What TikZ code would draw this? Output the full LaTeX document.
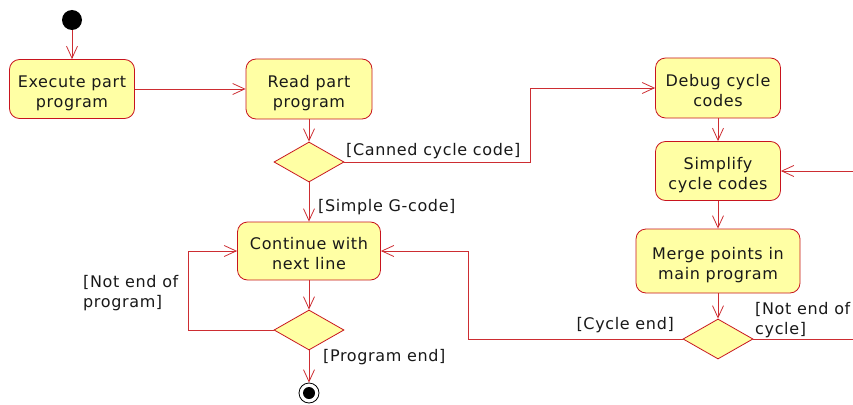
\documentclass[tikz,border=0pt]{standalone}
\usepackage{fontspec}
\setmainfont{DejaVu Sans}[LetterSpace=4]
\usetikzlibrary{shapes.geometric,arrows.meta}
\definecolor{actfill}{RGB}{255,255,164}
\definecolor{actline}{RGB}{200,20,30}
\definecolor{flowline}{RGB}{205,45,50}
\tikzset{
  x=1pt, y=-1pt,
  every node/.style={font=\fontsize{16}{20}\selectfont, text=black!90},
  action/.style={rectangle, rounded corners=10pt, draw=actline, fill=actfill,
    line width=0.8pt, align=center, inner sep=0pt, text height=37pt, text depth=0pt},
  choice/.style={diamond, draw=actline, fill=actfill, line width=0.8pt,
    minimum width=70pt, minimum height=40pt, inner sep=0pt},
  flow/.style={draw=flowline, line width=0.8pt,
    -{Straight Barb[length=12pt,width=11pt,line width=0.8pt]}},
  guard/.style={inner sep=0pt, align=left},
}
\begin{document}
\begin{tikzpicture}
\clip (0,0) rectangle (853,404);
\fill[white] (0,0) rectangle (853,404);

% initial and final states
\node[circle, fill=black, minimum size=20pt, inner sep=0pt] (start) at (72,20) {};
\node[circle, draw=black, line width=0.8pt, minimum size=20pt, inner sep=0pt] (stop) at (309,393) {};
\fill[black] (stop.center) circle (6pt);

% actions
\node[action, minimum width=125pt, minimum height=59pt] (exec) at (72,89) {Execute part\\program};
\node[action, minimum width=126pt, minimum height=60pt] (read) at (309,89) {Read part\\program};
\node[action, minimum width=125pt, minimum height=60pt] (debug) at (718,88) {Debug cycle\\codes};
\node[action, minimum width=125pt, minimum height=59pt] (simp) at (718,171) {Simplify\\cycle codes};
\node[action, minimum width=164pt, minimum height=64pt] (merge) at (718,261) {Merge points in\\main program};
\node[action, minimum width=143pt, minimum height=58pt] (cont) at (309,251) {Continue with\\next line};

% decisions
\node[choice] (d1) at (309,162) {};
\node[choice] (d2) at (718,339) {};
\node[choice] (d3) at (309,330) {};

% bend points
\coordinate (c1) at (530,162);
\coordinate (c2) at (468,339);
\coordinate (c3) at (188,330);
\coordinate (c4) at (880,339);

% connectors
\draw[flow] (start) -- (exec);
\draw[flow] (exec) -- (read);
\draw[flow] (read) -- (d1);
\draw[flow] (d1.east) -- (c1) |- (debug.west);
\draw[flow] (d1) -- (cont);
\draw[flow] (debug) -- (simp);
\draw[flow] (simp) -- (merge);
\draw[flow] (merge) -- (d2);
\draw[flow] (d2.west) -- (c2) |- (cont.east);
\draw[flow] (d2.east) -- (c4) |- (simp.east);
\draw[flow] (cont) -- (d3);
\draw[flow] (d3.west) -- (c3) |- (cont.west);
\draw[flow] (d3) -- (stop);

% guards
\node[guard, anchor=west] (g1) at (346,151) {[Canned cycle code]};
\node[guard, anchor=west] (g2) at (318,207) {[Simple G-code]};
\node[guard, anchor=west] (g3) at (83,293) {[Not end of\\program]};
\node[guard, anchor=west] (g4) at (323,357) {[Program end]};
\node[guard, anchor=east] (g5) at (674,325) {[Cycle end]};
\node[guard, anchor=west] (g6) at (755,320) {[Not end of\\cycle]};
\end{tikzpicture}
\end{document}
